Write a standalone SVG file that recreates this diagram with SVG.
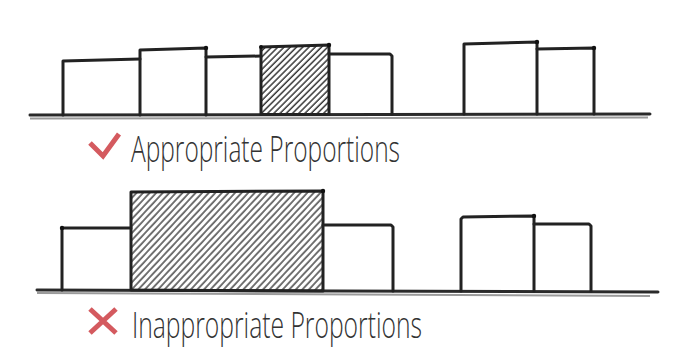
<svg xmlns="http://www.w3.org/2000/svg" width="681" height="354" viewBox="0 0 681 354">
<style>
.b{fill:none;stroke:#222;stroke-width:3;stroke-linejoin:round;stroke-linecap:round}
.h{stroke:#222;stroke-width:3;stroke-linejoin:round}
.g{stroke:#2a2a2a;stroke-width:3;stroke-linecap:round}
.g2{stroke:#9a9a9a;stroke-width:2}
.dot{fill:#111}
.lbl{font-family:"Open Sans","Noto Sans","Liberation Sans",sans-serif;font-weight:300;font-size:36px;fill:#333}
.mark{fill:none;stroke:#d45a5f;stroke-width:5;stroke-linecap:butt;stroke-linejoin:miter}
</style>
<defs>
<pattern id="hatch" patternUnits="userSpaceOnUse" width="4.4" height="6" patternTransform="rotate(45)">
<line x1="1" y1="0" x2="1" y2="6" stroke="#2a2a2a" stroke-width="1.4"/>
</pattern>
<pattern id="hatch2" patternUnits="userSpaceOnUse" width="4.8" height="6" patternTransform="rotate(43)">
<line x1="1" y1="0" x2="1" y2="6" stroke="#2a2a2a" stroke-width="1.3"/>
</pattern>
</defs>
<rect width="681" height="354" fill="#fff"/>
<g id="ground">
<line class="g2" x1="30" y1="118.5" x2="648" y2="117.5"/>
<line class="g" x1="30" y1="115" x2="650" y2="114"/>
<line class="g2" x1="37" y1="293" x2="650" y2="296"/>
<line class="g" x1="37" y1="290" x2="658" y2="292"/>
</g>
<g id="top-row">
<g id="t1"><path class="b" d="M63 115 V61 L140 59"/></g>
<g id="t2"><path class="b" d="M140 115 V50 L206 48 V115"/><circle class="dot" cx="206" cy="48" r="2.2"/></g>
<g id="t3"><path class="b" d="M206 57 L261 56"/></g>
<g id="t4"><path class="h" fill="url(#hatch)" d="M261 114.5 V47 L329 45 V114.5 Z"/><circle class="dot" cx="261" cy="47" r="2"/><circle class="dot" cx="329" cy="45" r="2.2"/></g>
<g id="t5"><path class="b" d="M329 54 L390 54 L392 56 V114"/></g>
<g id="t6"><path class="b" d="M464 114 V44 L537 42 V114"/><circle class="dot" cx="537" cy="42" r="2.2"/></g>
<g id="t7"><path class="b" d="M537 49 L594 48 V114"/><circle class="dot" cx="594" cy="48" r="2.2"/></g>
</g>
<g id="bottom-row">
<g id="u1"><path class="b" d="M62 290 V228 L131 228"/><circle class="dot" cx="62" cy="228" r="2.2"/></g>
<g id="u2"><path class="h" fill="url(#hatch2)" d="M131 290 V192 L323 191 V291 Z"/><circle class="dot" cx="323" cy="191" r="2.2"/></g>
<g id="u3"><path class="b" d="M323 225 L391 225 L393 227 V291"/></g>
<g id="u4"><path class="b" d="M461 291 V219 L463 217 L534 216 V291"/><circle class="dot" cx="534" cy="216" r="2.2"/></g>
<g id="u5"><path class="b" d="M534 224 L589 224 L591 226 V291"/></g>
</g>
<g id="label-good">
<path class="mark" d="M90 143 L103 156 L119 134"/>
<text class="lbl" x="131" y="162" textLength="269" lengthAdjust="spacingAndGlyphs">Appropriate Proportions</text>
</g>
<g id="label-bad">
<path class="mark" d="M90 309 L116 333 M116 309 L90 333"/>
<text class="lbl" x="132" y="338" textLength="290" lengthAdjust="spacingAndGlyphs">Inappropriate Proportions</text>
</g>
</svg>
